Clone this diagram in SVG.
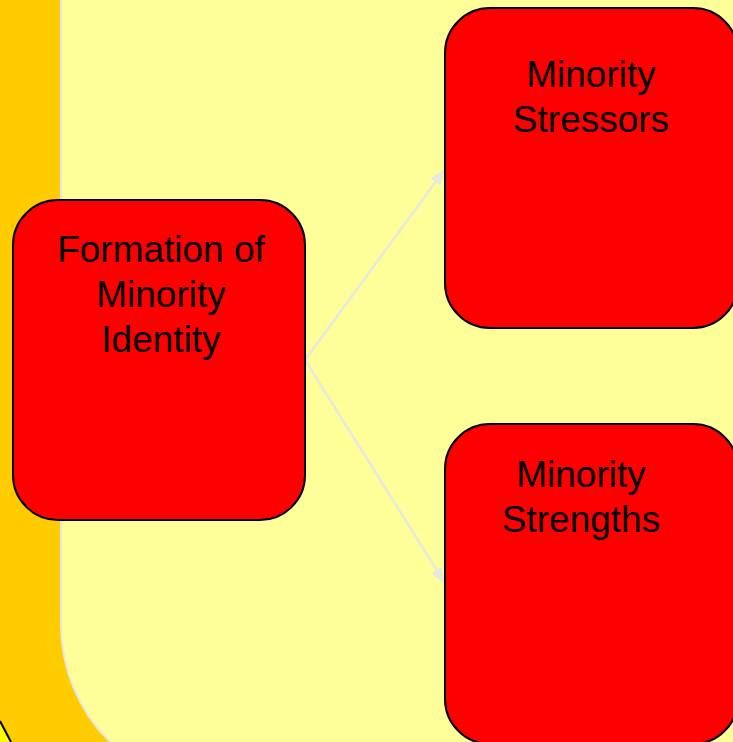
<svg xmlns="http://www.w3.org/2000/svg" width="733" height="742" viewBox="0 0 733 742">
<style>
.node rect{fill:#FF0000;stroke:#000000;stroke-width:2}
.node text{font-family:"Liberation Sans",Arial,sans-serif;font-size:37px;fill:#000000;text-anchor:middle}
.conn line{stroke:#E8E8DC;stroke-width:2.5;fill:none}
.conn polygon{fill:#E8E8DC}
</style>
<rect x="0" y="0" width="733" height="742" fill="#FFCC00"/>
<path d="M0,721 L11,742 L0,742 Z" fill="#FFFF00"/>
<line x1="0" y1="721" x2="11" y2="742" stroke="#000000" stroke-width="2"/>
<path d="M61,-20 L61,620 A167,167 0 0 0 113,745 L740,745 L740,-20 Z" fill="#FFFF99" stroke="#E8E8E0" stroke-width="2"/>
<g id="connectors" class="conn">
<line x1="305" y1="360" x2="437" y2="180"/>
<polygon points="445,169 440.4,185.4 430.7,178.3"/>
<line x1="305" y1="360" x2="438" y2="572"/>
<polygon points="445,584 431.4,573.6 441.6,567.2"/>
</g>
<g id="node-formation" class="node">
<rect x="13" y="200" width="292" height="320" rx="45" ry="45"/>
<text x="161" y="262">Formation of</text>
<text x="161" y="307">Minority</text>
<text x="161" y="352">Identity</text>
</g>
<g id="node-stressors" class="node">
<rect x="445" y="8" width="293" height="320" rx="45" ry="45"/>
<text x="591" y="87">Minority</text>
<text x="591" y="132">Stressors</text>
</g>
<g id="node-strengths" class="node">
<rect x="445" y="424" width="293" height="320" rx="45" ry="45"/>
<text x="581" y="487">Minority</text>
<text x="581" y="532">Strengths</text>
</g>
</svg>
